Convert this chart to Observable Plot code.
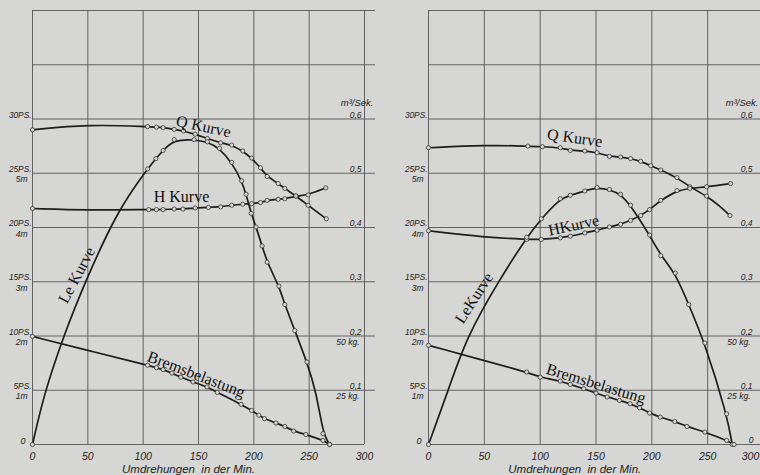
<!DOCTYPE html>
<html>
<head>
<meta charset="utf-8">
<script src="https://cdn.jsdelivr.net/npm/d3@7"></script>
<script src="https://cdn.jsdelivr.net/npm/@observablehq/plot@0.6"></script>
<style>
  html, body { margin: 0; padding: 0; background: #d6d6d4; }
  #wrap { display: flex; width: 760px; height: 475px; overflow: hidden; }
  svg { overflow: visible; }
</style>
</head>
<body>
<div id="wrap"></div>
<script>
// ---------- DATA ----------
// x: Umdrehungen in der Min. ; measured: 1 = drawn circle, 0 = curve only
// LEFT PANEL
const leftQ_rpm  = [0, 50, 104, 112, 118, 128, 136.5, 147, 158, 170, 180, 190, 198, 206, 212, 222, 228, 238, 249, 265.5];
const leftQ_m3s  = [0.580, 0.590, 0.586, 0.585, 0.584, 0.581, 0.578, 0.572, 0.564, 0.556, 0.552, 0.541, 0.528, 0.510, 0.494, 0.481, 0.472, 0.458, 0.441, 0.416];
const leftQ_meas = [1, 0, 1, 1, 1, 1, 1, 1, 1, 1, 1, 1, 1, 1, 1, 1, 1, 1, 1, 1];

const leftH_rpm  = [0, 50, 105, 112, 118, 128, 136, 147, 159, 170, 180, 190, 198, 206, 212, 222, 228, 238, 249, 265];
const leftH_m    = [4.35, 4.32, 4.33, 4.33, 4.33, 4.34, 4.34, 4.36, 4.37, 4.38, 4.41, 4.43, 4.44, 4.46, 4.50, 4.52, 4.53, 4.58, 4.60, 4.73];
const leftH_meas = [1, 0, 1, 1, 1, 1, 1, 1, 1, 1, 1, 1, 1, 1, 1, 1, 1, 1, 1, 1];

const leftLe_rpm  = [0, 10, 28, 48, 77, 104, 111.5, 118, 128, 146, 158, 169, 180, 189, 193, 197.6, 202, 207.5, 212, 222.7, 228, 237, 248, 256.5, 262.5, 268.5];
const leftLe_PS   = [0, 4.5, 10, 15.1, 21.6, 25.4, 26.35, 27.1, 28.1, 28.1, 27.9, 27.3, 26.0, 24.3, 23.06, 21.3, 20.05, 18.3, 16.8, 14.6, 12.9, 10.5, 7.6, 4.8, 1.0, 0];
const leftLe_meas = [1, 0, 0, 0, 0, 1, 1, 1, 1, 1, 1, 1, 1, 1, 1, 1, 1, 1, 1, 1, 1, 1, 1, 0, 1, 1];

const leftB_rpm  = [0, 49, 104, 112, 118, 126, 134, 145, 157.7, 167, 188.5, 198, 204.5, 209.6, 220, 228, 236, 247, 262.5, 268.5];
const leftB_kg   = [49.8, 43.5, 36.5, 35.4, 34.5, 32.9, 31.0, 28.8, 26.5, 24.0, 18.5, 15.7, 13.5, 11.9, 9.9, 8.3, 6.2, 4.6, 1.9, 0];
const leftB_meas = [1, 0, 1, 1, 1, 1, 1, 1, 1, 1, 1, 1, 1, 1, 1, 1, 1, 1, 1, 1];

// RIGHT PANEL
const rightQ_rpm  = [0, 51, 89, 102, 118, 127, 140, 151, 162, 172, 181, 190, 199, 208, 222.5, 234, 249, 260, 270];
const rightQ_m3s  = [0.547, 0.552, 0.550, 0.549, 0.547, 0.542, 0.541, 0.538, 0.531, 0.530, 0.527, 0.522, 0.514, 0.506, 0.492, 0.475, 0.458, 0.441, 0.422];
const rightQ_meas = [1, 0, 1, 1, 1, 1, 1, 1, 1, 1, 1, 1, 1, 1, 1, 1, 1, 0, 1];

const rightH_rpm  = [0, 50, 88, 101, 118, 127, 140, 151, 162, 172, 181, 190, 198, 208, 222.5, 234, 249, 270.5];
const rightH_m    = [3.94, 3.82, 3.78, 3.78, 3.81, 3.84, 3.90, 3.95, 4.01, 4.06, 4.13, 4.22, 4.33, 4.50, 4.68, 4.72, 4.75, 4.81];
const rightH_meas = [1, 0, 1, 1, 1, 1, 1, 1, 1, 1, 1, 1, 1, 1, 1, 1, 1, 1];

const rightLe_rpm  = [0, 17.7, 34, 63, 88, 101, 118, 127, 140, 151, 162, 172, 181, 198, 208, 221, 233, 247.5, 267, 272];
const rightLe_PS   = [0, 5, 9.9, 15.1, 19.1, 20.8, 22.66, 22.97, 23.37, 23.68, 23.5, 23.06, 22.05, 19.3, 17.4, 15.8, 12.9, 9.35, 2.83, 0];
const rightLe_meas = [1, 0, 0, 0, 1, 1, 1, 1, 1, 1, 1, 1, 1, 1, 1, 1, 1, 1, 1, 1];

const rightB_rpm  = [0, 88, 100, 118, 127, 139, 150, 160, 171, 180.5, 189, 198, 207.5, 220.5, 231.5, 247.5, 267, 273.6];
const rightB_kg   = [45.7, 33.4, 31.0, 29.2, 27.7, 25.7, 23.7, 21.9, 20.3, 18.8, 16.9, 14.5, 12.6, 10.6, 8.3, 5.7, 1.9, 0];
const rightB_meas = [1, 1, 1, 1, 1, 1, 1, 1, 1, 1, 1, 1, 1, 1, 1, 1, 1, 1];

// ---------- AXIS TICKS / LABELS ----------
const xTicks   = [0, 50, 100, 150, 200, 250, 300];
const xLabels  = ["0", "50", "100", "150", "200", "250", "300"];
const psTicks  = [5, 10, 15, 20, 25, 30];
const psLabels = ["5PS.", "10PS.", "15PS.", "20PS.", "25PS.", "30PS."];
const zeroLabel = "0";
const mTicks   = [1, 2, 3, 4, 5];
const mLabels  = ["1m", "2m", "3m", "4m", "5m"];
const qTicks   = [0.1, 0.2, 0.3, 0.4, 0.5, 0.6];
const qLabels  = ["0,1", "0,2", "0,3", "0,4", "0,5", "0,6"];
const kgTicks  = [25, 50];
const kgLabels = ["25 kg.", "50 kg."];
const gridPS   = [5, 10, 15, 20, 25, 30, 35, 40];
const xTitle   = "Umdrehungen  in der Min.";
const qUnit    = "m³/Sek.";

// unit conversions to the common PS scale
const PS_PER_M = 5, PS_PER_Q = 50, PS_PER_KG = 0.2;

// ---------- helpers ----------
const BG = "#d6d6d4", INK = "#1d1d1d", GRID = "#555";
const rows = (xs, ys, ms, f) => xs.map((x, i) => ({x, y: ys[i] * f, m: ms[i]}));

function panel(o) {
  const serif = {fontFamily: "Liberation Serif, DejaVu Serif, serif", fontSize: 16, fill: "#111"};
  const sans = {fontFamily: "Liberation Sans, Arial, sans-serif", fontStyle: "italic", fill: "#222"};
  const series = [o.Q, o.H, o.Le, o.B];
  const marks = [
    Plot.ruleY(gridPS, {y: d => d, x1: 0, x2: o.xExt, stroke: GRID, strokeWidth: 0.9}),
    Plot.ruleY([0], {y: d => d, x1: 0, x2: 300, stroke: GRID, strokeWidth: 0.9}),
    Plot.ruleX(xTicks, {x: d => d, y1: 0, y2: 40, stroke: GRID, strokeWidth: 0.9}),
    ...series.map(s => Plot.line(s, {x: "x", y: "y", curve: "basis", stroke: INK, strokeWidth: 1.7})),
    ...series.map(s => Plot.dot(s.filter(d => d.m), {x: "x", y: "y", r: 2.1, fill: BG, stroke: "#333", strokeWidth: 0.8})),
    // x tick labels
    Plot.text(xTicks.slice(0, -1), {x: d => d, y: 0, text: (d, i) => xLabels[i], dy: 12, fontSize: 10.5, ...sans}),
    Plot.text(xTicks.slice(-1), {x: d => d, y: 0, text: () => xLabels[xLabels.length - 1], dy: 12, dx: o.lastDx, fontSize: 10.5, ...sans}),
    Plot.text([xTitle], {x: () => o.titleX, y: () => 0, text: d => d, dy: 25, fontSize: 11.5, ...sans}),
    // left side labels
    Plot.text(psTicks, {x: () => 0, y: d => d, text: (d, i) => psLabels[i], textAnchor: "end", lineAnchor: "bottom", dx: -1, dy: -1.5, fontSize: 8.3, ...sans}),
    Plot.text([zeroLabel], {x: () => 0, y: () => 0, text: d => d, textAnchor: "end", lineAnchor: "bottom", dx: -7, dy: -1, fontSize: 9, ...sans}),
    Plot.text(mTicks, {x: () => 0, y: d => d * PS_PER_M, text: (d, i) => mLabels[i], textAnchor: "end", lineAnchor: "top", dx: -5, dy: 3, fontSize: 8.5, ...sans}),
    // right side labels
    Plot.text(qTicks, {x: () => 300, y: d => d * PS_PER_Q, text: (d, i) => qLabels[i], textAnchor: "end", lineAnchor: "bottom", dx: o.qDx, dy: -1.5, fontSize: 8.5, ...sans}),
    Plot.text(kgTicks, {x: () => 300, y: d => d * PS_PER_KG, text: (d, i) => kgLabels[i], textAnchor: "end", lineAnchor: "top", dx: o.qDx - 2, dy: 3, fontSize: 8.5, ...sans}),
    Plot.text([qUnit], {x: () => 300, y: () => 0.6 * PS_PER_Q, text: d => d, textAnchor: "end", lineAnchor: "bottom", dx: o.qDx + o.unitDx, dy: -13, fontSize: 9.5, ...sans}),
    ...(o.zeroRight ? [Plot.text([zeroLabel], {x: () => 300, y: () => 0, text: d => d, textAnchor: "end", lineAnchor: "bottom", dx: o.qDx + 1, dy: -1.5, fontSize: 8.5, ...sans})] : []),
    // curve names
    Plot.text(o.names, {x: "x", y: "y", text: "t", rotate: "r", ...serif})
  ];
  return Plot.plot({
    width: 380, height: 475,
    marginTop: 10, marginBottom: 31, marginLeft: 0, marginRight: 0,
    x: {domain: [0, 300], range: o.xRange, axis: null},
    y: {domain: [0, 40], range: [444, 10], axis: null},
    style: {background: "transparent", overflow: "visible"},
    marks
  });
}

const left = panel({
  Q: rows(leftQ_rpm, leftQ_m3s, leftQ_meas, PS_PER_Q),
  H: rows(leftH_rpm, leftH_m, leftH_meas, PS_PER_M),
  Le: rows(leftLe_rpm, leftLe_PS, leftLe_meas, 1),
  B: rows(leftB_rpm, leftB_kg, leftB_meas, PS_PER_KG),
  xRange: [32, 364], xExt: 310, lastDx: 0, titleX: 141,
  qDx: -3, unitDx: 12, zeroRight: false,
  names: [
    {t: "Q Kurve", x: 154.5, y: 29.3, r: 12},
    {t: "H Kurve", x: 134.6, y: 22.8, r: 0},
    {t: "Le Kurve", x: 40, y: 15.6, r: -62},
    {t: "Bremsbelastung", x: 148, y: 6.45, r: 21}
  ]
});

const right = panel({
  Q: rows(rightQ_rpm, rightQ_m3s, rightQ_meas, PS_PER_Q),
  H: rows(rightH_rpm, rightH_m, rightH_meas, PS_PER_M),
  Le: rows(rightLe_rpm, rightLe_PS, rightLe_meas, 1),
  B: rows(rightB_rpm, rightB_kg, rightB_meas, PS_PER_KG),
  xRange: [48, 383], xExt: 300, lastDx: -13, titleX: 131,
  qDx: -11, unitDx: 6, zeroRight: true,
  names: [
    {t: "Q Kurve", x: 131, y: 28.25, r: 8},
    {t: "HKurve", x: 130, y: 20.2, r: -12},
    {t: "LeKurve", x: 40.8, y: 13.5, r: -57},
    {t: "Bremsbelastung", x: 150, y: 5.6, r: 17}
  ]
});

document.getElementById("wrap").append(left, right);
</script>
</body>
</html>
